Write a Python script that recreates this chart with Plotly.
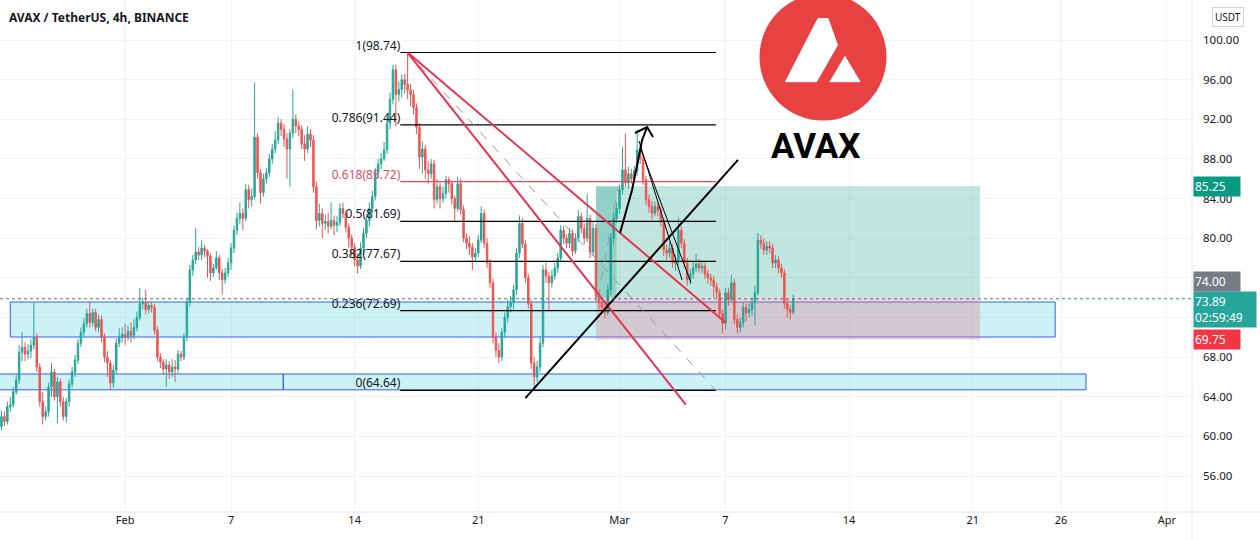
import plotly.graph_objects as go
import pandas as pd

# ---------------- DATA ----------------
start_time = "2022-01-25 00:00"
bar_hours = 4
first_open = 61.0

closes = [
    62.0, 61.5, 63.0, 63.2, 64.5, 65.7,
    68.5, 69.0, 68.3, 68.6, 69.2, 70.0,
    67.0, 63.5, 62.0, 62.5, 65.0, 66.5,
    64.0, 65.5, 63.5, 62.0, 63.5, 65.3,
    66.5, 67.7, 69.4, 70.5, 71.4, 72.4,
    71.5, 72.5, 71.0, 71.8, 70.0, 68.0,
    67.4, 65.4, 66.7, 69.4, 70.0, 70.3,
    70.0, 70.6, 70.2, 71.0, 72.0, 73.4,
    73.5, 72.8, 73.2, 73.0, 70.7, 68.0,
    67.5, 66.8, 67.2, 66.5, 67.0, 66.8,
    68.3, 68.0, 70.0, 73.5, 76.8, 77.8,
    78.6, 78.3, 79.0, 78.7, 78.2, 76.5,
    77.0, 78.0, 76.5, 75.8, 76.5, 77.5,
    79.0, 80.8, 82.0, 82.5, 82.0, 84.9,
    83.9, 84.2, 90.2, 86.6, 84.6, 86.0,
    86.6, 88.0, 89.0, 89.9, 91.6, 91.0,
    90.0, 89.0, 90.6, 92.0, 91.3, 91.0,
    89.5, 89.0, 90.5, 89.9, 85.2, 81.8,
    82.5, 81.5, 81.7, 81.2, 81.8, 81.3,
    81.6, 83.0, 82.5, 81.1, 80.0, 79.1,
    77.8, 77.2, 79.0, 80.5, 81.8, 83.0,
    84.2, 86.6, 87.5, 88.0, 88.9, 91.6,
    94.0, 97.0, 94.5, 95.0, 96.0, 95.5,
    95.0, 94.5, 93.2, 91.2, 88.2, 89.0,
    86.9, 86.5, 87.5, 83.9, 85.2, 84.0,
    84.5, 85.9, 85.5, 84.0, 83.0, 85.5,
    82.9, 80.0, 79.5, 79.1, 78.1, 78.5,
    79.8, 82.5, 79.5, 77.5, 75.5, 70.0,
    68.7, 68.0, 70.5, 72.0, 73.1, 73.5,
    74.8, 78.5, 81.5, 79.4, 76.0, 73.4,
    67.4, 66.0, 67.0, 69.4, 76.8, 76.2,
    75.5, 76.2, 77.0, 78.0, 80.8, 80.0,
    79.5, 80.5, 78.7, 80.0, 82.2, 81.0,
    80.0, 82.0, 78.6, 81.0, 74.1, 73.5,
    73.0, 72.5, 74.8, 80.0, 82.0, 83.0,
    84.9, 86.9, 85.6, 86.5, 86.0, 86.8,
    88.9, 88.0, 85.9, 83.9, 83.2, 82.5,
    83.2, 82.8, 81.8, 78.8, 78.5, 79.0,
    77.5, 77.8, 80.8, 79.5, 77.5, 75.8,
    76.4, 77.0, 77.4, 77.0, 77.2, 76.4,
    76.0, 75.8, 75.1, 74.5, 72.4, 71.4,
    74.5, 73.8, 75.5, 71.8, 71.0, 71.5,
    73.0, 72.5, 72.8, 73.5, 74.5, 79.8,
    79.5, 78.8, 79.2, 79.0, 77.5, 77.8,
    77.0, 76.5, 73.4, 72.8, 72.5, 73.89,
]

highs = [
    62.6, 62.5, 63.5, 64.0, 65.0, 66.2,
    69.2, 70.5, 69.5, 69.3, 69.8, 73.5,
    70.4, 67.4, 64.5, 63.0, 65.4, 67.4,
    66.8, 66.0, 65.8, 64.0, 63.9, 65.7,
    67.0, 68.2, 69.8, 71.0, 71.9, 72.9,
    73.6, 72.9, 72.9, 72.3, 72.2, 70.4,
    68.6, 67.7, 67.2, 69.9, 70.9, 71.0,
    71.4, 71.2, 71.5, 71.8, 72.6, 75.0,
    74.0, 74.8, 73.6, 73.6, 73.4, 71.1,
    68.4, 67.8, 67.8, 67.6, 67.8, 67.7,
    68.7, 68.6, 70.4, 74.0, 77.3, 78.3,
    81.0, 79.1, 79.8, 79.3, 78.9, 78.5,
    77.4, 78.7, 78.3, 76.9, 77.0, 78.0,
    79.5, 81.3, 82.6, 83.6, 83.0, 85.5,
    85.4, 85.0, 95.7, 90.6, 87.0, 86.5,
    87.1, 88.5, 89.5, 90.8, 92.2, 92.0,
    91.5, 90.6, 91.0, 95.0, 92.5, 91.8,
    91.4, 90.4, 91.3, 91.0, 90.4, 85.7,
    83.5, 83.0, 82.4, 82.6, 83.6, 82.3,
    82.2, 83.5, 83.6, 82.8, 81.5, 80.4,
    79.5, 78.5, 79.6, 81.0, 82.3, 83.6,
    84.8, 87.1, 88.0, 88.6, 89.7, 92.2,
    94.7, 97.5, 97.5, 95.8, 96.5, 96.6,
    98.74, 95.6, 95.0, 93.6, 91.6, 89.8,
    89.4, 87.8, 88.0, 87.9, 86.0, 85.6,
    85.2, 86.3, 86.2, 85.8, 84.3, 86.2,
    86.0, 83.3, 80.5, 80.2, 79.5, 79.0,
    80.3, 83.2, 82.9, 80.0, 77.9, 75.9,
    70.5, 69.4, 70.9, 72.5, 73.8, 74.2,
    75.3, 79.0, 82.3, 82.0, 79.8, 76.4,
    73.8, 68.0, 67.6, 70.0, 77.3, 77.5,
    76.6, 76.8, 77.5, 78.5, 81.3, 81.2,
    80.4, 81.0, 80.9, 80.5, 82.8, 82.6,
    81.5, 84.5, 82.4, 81.6, 81.4, 74.6,
    74.0, 73.5, 75.3, 80.5, 82.6, 83.6,
    85.4, 89.2, 90.6, 87.2, 87.0, 87.3,
    90.9, 89.4, 88.4, 86.3, 84.4, 83.8,
    83.7, 83.6, 83.2, 82.0, 79.4, 79.6,
    79.4, 78.3, 82.1, 81.2, 79.9, 78.0,
    76.9, 77.6, 78.4, 77.9, 77.7, 77.5,
    76.8, 76.4, 76.2, 75.5, 74.9, 72.8,
    75.0, 75.0, 76.3, 75.9, 72.3, 72.0,
    73.5, 73.4, 73.4, 74.0, 75.2, 80.5,
    80.3, 80.0, 79.7, 79.7, 79.4, 78.3,
    78.2, 77.4, 76.9, 73.9, 73.2, 74.3,
]

lows = [
    60.6, 61.0, 61.2, 62.5, 62.9, 64.2,
    65.3, 67.6, 67.6, 67.8, 67.9, 68.8,
    66.5, 63.0, 61.2, 61.6, 62.0, 64.0,
    63.6, 61.3, 63.0, 61.6, 61.4, 63.0,
    64.9, 66.0, 67.3, 69.0, 70.1, 71.0,
    71.0, 71.1, 70.6, 70.5, 69.5, 67.5,
    66.0, 64.7, 64.9, 66.3, 69.0, 69.5,
    69.2, 69.7, 69.5, 69.8, 70.6, 71.7,
    72.8, 72.3, 72.4, 72.5, 70.3, 67.6,
    66.9, 66.2, 65.0, 65.8, 66.0, 65.5,
    66.4, 67.6, 67.7, 69.6, 73.1, 76.2,
    77.4, 77.8, 77.8, 78.1, 76.0, 75.7,
    76.1, 76.8, 75.8, 74.3, 75.4, 76.1,
    76.8, 78.5, 80.3, 81.4, 80.8, 81.7,
    83.0, 83.2, 83.9, 86.0, 83.5, 84.2,
    85.5, 86.2, 87.5, 88.6, 89.5, 90.3,
    89.2, 86.0, 85.2, 90.1, 90.6, 90.3,
    89.0, 87.8, 88.6, 89.2, 84.6, 80.9,
    81.2, 80.0, 80.8, 80.5, 80.9, 80.3,
    80.6, 81.2, 82.0, 80.6, 79.0, 78.2,
    77.1, 76.4, 76.9, 78.3, 80.0, 81.2,
    82.5, 83.8, 86.0, 87.0, 87.8, 88.5,
    91.0, 93.5, 91.3, 93.8, 94.2, 94.6,
    94.0, 93.3, 92.5, 90.5, 87.0, 86.5,
    86.0, 85.5, 86.0, 83.0, 83.5, 83.0,
    83.6, 84.0, 84.6, 83.4, 81.6, 82.7,
    82.4, 79.6, 78.9, 78.3, 76.8, 77.6,
    78.1, 79.5, 79.0, 77.0, 75.0, 69.4,
    68.0, 67.4, 67.6, 70.0, 71.5, 72.5,
    72.8, 74.3, 78.0, 79.0, 75.5, 72.9,
    66.8, 64.64, 65.5, 66.5, 69.0, 75.5,
    72.7, 75.0, 75.8, 76.5, 77.6, 79.4,
    79.0, 79.0, 78.2, 78.4, 79.6, 80.5,
    79.4, 79.6, 78.0, 78.2, 73.6, 72.8,
    72.4, 71.9, 72.2, 74.2, 79.4, 81.5,
    82.5, 84.4, 85.2, 85.0, 85.5, 85.6,
    86.3, 87.5, 85.4, 83.3, 82.6, 81.9,
    82.2, 82.2, 81.2, 78.2, 77.8, 78.0,
    77.0, 76.7, 77.3, 79.0, 77.0, 75.2,
    75.3, 75.9, 76.6, 76.5, 76.5, 75.9,
    75.4, 75.2, 74.0, 73.9, 72.0, 70.4,
    70.8, 73.2, 73.5, 71.3, 70.4, 70.5,
    71.0, 71.6, 72.0, 72.2, 71.2, 74.2,
    78.9, 78.3, 78.3, 78.5, 77.0, 77.0,
    76.5, 76.0, 72.9, 72.0, 71.8, 72.3,
]

x_tick_vals = ["2022-02-01", "2022-02-07", "2022-02-14", "2022-02-21", "2022-03-01",
               "2022-03-07", "2022-03-14", "2022-03-21", "2022-03-26", "2022-04-01"]
x_tick_text = ["Feb", "7", "14", "21", "Mar", "7", "14", "21", "26", "Apr"]
y_tick_vals = [56, 60, 64, 68, 72, 76, 80, 84, 88, 92, 96, 100]
y_hidden_ticks = [72, 76]  # covered by the price labels in the reference
x_range = ["2022-01-24 22:00", "2022-04-02 10:00"]
y_range = [52.37, 104.04]

# Fibonacci retracement
fib_levels = [98.74, 91.44, 85.72, 81.69, 77.67, 72.69, 64.64]
fib_labels = ["1(98.74)", "0.786(91.44)", "0.618(85.72)", "0.5(81.69)",
              "0.382(77.67)", "0.236(72.69)", "0(64.64)"]
fib_start = "2022-02-16 14:00"
fib_end = "2022-03-06 11:00"
fib_anchor_times = ["2022-02-17 00:00", "2022-03-06 11:00"]
fib_anchor_prices = [98.74, 64.64]

# Trend lines
red_a_times = ["2022-02-17 00:00", "2022-03-07 00:00"]
red_a_prices = [98.74, 71.5]
red_b_times = ["2022-02-17 00:00", "2022-03-04 18:00"]
red_b_prices = [98.74, 63.2]
black_trend_times = ["2022-02-23 16:00", "2022-03-07 17:00"]
black_trend_prices = [63.87, 87.9]
arrow_times = ["2022-03-01 00:40", "2022-03-01 17:00", "2022-03-02 06:40", "2022-03-02 13:30"]
arrow_prices = [80.53, 84.86, 89.91, 91.22]
arrow_head_times = ["2022-03-01 21:00", "2022-03-02 13:30", "2022-03-02 21:30"]
arrow_head_prices = [90.62, 91.22, 90.21]
thin_a_times = ["2022-03-02 02:30", "2022-03-04 13:00"]
thin_a_prices = [89.81, 75.78]
thin_b_times = ["2022-03-02 05:20", "2022-03-05 01:10"]
thin_b_prices = [88.9, 75.5]

# Long position tool
position_start = "2022-02-27 16:00"
position_end = "2022-03-21 10:00"
position_dark_end = "2022-02-28 20:00"
entry_price = 74.00
target_price = 85.25
stop_price = 69.75
position_path_times = ["2022-02-27 18:45", "2022-02-28 22:00"]
position_path_prices = [73.97, 85.27]

# Support zones
zone_starts = ["2022-01-25 12:00", "2022-01-20 00:00", "2022-02-09 23:00"]
zone_ends = ["2022-03-25 16:00", "2022-02-09 23:00", "2022-03-27 10:00"]
zone_lows = [70.03, 64.7, 64.7]
zone_highs = [73.56, 66.3, 66.3]

last_price = 73.89
countdown = "02:59:49"
title_text = "AVAX / TetherUS, 4h, BINANCE"

# ---------------- FIGURE ----------------
FIG_W, FIG_H = 1260, 540
PLOT_W, PLOT_H = 1192, 512
UP, DOWN = "#26a69a", "#ef5350"
FONT = "Noto Sans"

times = pd.date_range(start_time, periods=len(closes), freq=f"{bar_hours}h")
opens = [first_open] + closes[:-1]
hi = [max(h, o, c) for h, o, c in zip(highs, opens, closes)]
lo = [min(l, o, c) for l, o, c in zip(lows, opens, closes)]


def px(x, y):
    return x / PLOT_W, 1 - y / PLOT_H


fig = go.Figure()

# fib labels (under candles)
fig.add_trace(go.Scatter(
    x=[fib_start] * len(fib_levels), y=fib_levels, mode="text",
    text=fib_labels, textposition="top left",
    textfont=dict(family=FONT, size=12,
                  color=["#e04a5c" if l.startswith("0.618") else "#131722" for l in fib_labels]),
    hoverinfo="skip", showlegend=False))

fig.add_trace(go.Candlestick(
    x=times, open=opens, high=hi, low=lo, close=closes,
    increasing=dict(line=dict(color=UP, width=1), fillcolor=UP),
    decreasing=dict(line=dict(color=DOWN, width=1), fillcolor=DOWN),
    whiskerwidth=0, showlegend=False, hoverinfo="skip"))


def line_trace(xs, ys, color, width, dash="solid"):
    fig.add_trace(go.Scatter(x=xs, y=ys, mode="lines",
                             line=dict(color=color, width=width, dash=dash),
                             hoverinfo="skip", showlegend=False))


# fib lines
for lvl, lab in zip(fib_levels, fib_labels):
    col = "#e04a5c" if lab.startswith("0.618") else "#000000"
    line_trace([fib_start, fib_end], [lvl, lvl], col, 1.2)
line_trace(fib_anchor_times, fib_anchor_prices, "#9598a1", 1, "dash")
line_trace(position_path_times, position_path_prices, "#9598a1", 1, "dash")

line_trace(red_a_times, red_a_prices, "#e8334f", 2)
line_trace(red_b_times, red_b_prices, "#e8334f", 2)
line_trace(black_trend_times, black_trend_prices, "#000000", 2)
line_trace(arrow_times, arrow_prices, "#000000", 2)
line_trace(arrow_head_times, arrow_head_prices, "#000000", 2)
line_trace(thin_a_times, thin_a_prices, "#000000", 1)
line_trace(thin_b_times, thin_b_prices, "#000000", 1)

shapes = []
# zones
for x0, x1, y0, y1 in zip(zone_starts, zone_ends, zone_lows, zone_highs):
    shapes.append(dict(type="rect", xref="x", yref="y", x0=x0, x1=x1, y0=y0, y1=y1,
                       fillcolor="rgba(0,188,212,0.2)", line=dict(color="#2f5ff0", width=1),
                       layer="between"))
# position: target, darker part, stop
shapes.append(dict(type="rect", xref="x", yref="y", x0=position_start, x1=position_end,
                   y0=entry_price, y1=target_price, fillcolor="rgba(8,153,129,0.25)",
                   line=dict(width=0), layer="between"))
shapes.append(dict(type="rect", xref="x", yref="y", x0=position_start, x1=position_dark_end,
                   y0=entry_price, y1=target_price, fillcolor="rgba(8,153,129,0.25)",
                   line=dict(width=0), layer="between"))
shapes.append(dict(type="rect", xref="x", yref="y", x0=position_start, x1=position_end,
                   y0=stop_price, y1=entry_price, fillcolor="rgba(220,125,140,0.35)",
                   line=dict(width=0), layer="between"))
# last price dotted line
shapes.append(dict(type="line", xref="paper", yref="y", x0=0, x1=1, y0=last_price, y1=last_price,
                   line=dict(color="#3f7f78", width=1, dash="dot"), layer="above"))
# frame lines extending into axis area
shapes.append(dict(type="line", xref="paper", yref="paper", x0=0, x1=FIG_W / PLOT_W, y0=0, y1=0,
                   line=dict(color="#e0e3eb", width=1)))
shapes.append(dict(type="line", xref="paper", yref="paper", x0=1, x1=1, y0=-(FIG_H - PLOT_H) / PLOT_H,
                   y1=1, line=dict(color="#e0e3eb", width=1)))

# AVAX logo (decoration)
cx, cy, r = 823, 57, 63.5
x0, y1 = px(cx - r, cy - r)
x1, y0 = px(cx + r, cy + r)
shapes.append(dict(type="circle", xref="paper", yref="paper", x0=x0, x1=x1, y0=y0, y1=y1,
                   fillcolor="#e84142", line=dict(width=0), layer="above"))


def poly(points):
    s = ""
    for i, (a, b) in enumerate(points):
        u, v = px(a, b)
        s += ("M" if i == 0 else "L") + f"{u:.5f},{v:.5f} "
    return s + "Z"


shapes.append(dict(type="path", xref="paper", yref="paper",
                   path=poly([(818, 18.5), (828, 18.5), (837.5, 45), (816.5, 81.7), (785.5, 81.7)]),
                   fillcolor="white", line=dict(color="white", width=1), layer="above"))
shapes.append(dict(type="path", xref="paper", yref="paper",
                   path=poly([(845, 56.5), (830, 81.7), (860, 81.7)]),
                   fillcolor="white", line=dict(color="white", width=1), layer="above"))

annotations = []
annotations.append(dict(xref="paper", yref="paper", x=px(815.5, 0)[0], y=px(0, 146)[1],
                        xanchor="center", yanchor="middle",
                        text="<b>AVAX</b>", showarrow=False,
                        font=dict(family="Roboto", size=35, color="#000000")))
annotations.append(dict(xref="paper", yref="paper", x=0, y=1, xanchor="left", yanchor="top",
                        xshift=7, yshift=-7, text="<b>" + title_text + "</b>", showarrow=False,
                        font=dict(family=FONT, size=12, color="#131722")))
annotations.append(dict(xref="paper", yref="paper", x=px(1227.5, 0)[0], y=px(0, 16.5)[1],
                        xanchor="center", yanchor="middle",
                        text="USDT", showarrow=False, bgcolor="white", bordercolor="#d1d4dc",
                        borderwidth=1, borderpad=2, font=dict(family=FONT, size=10, color="#131722")))


def price_label(price, text, color, yshift=0, width=44, anchor="middle"):
    annotations.append(dict(xref="paper", yref="y", x=1, y=price, xanchor="left", yanchor=anchor,
                            xshift=1, yshift=yshift, text=text, showarrow=False, align="left",
                            bgcolor=color, borderpad=1, width=width,
                            font=dict(family=FONT, size=12, color="white")))


price_label(target_price, "85.25", "#089981")
price_label(entry_price, "74.00", "#787b86", yshift=16)
price_label(stop_price, "69.75", "#f23645")
price_label(last_price, f"{last_price:.2f}<br>{countdown}", "#26a69a", yshift=8, width=60, anchor="top")

fig.update_layout(
    width=FIG_W, height=FIG_H,
    margin=dict(l=0, r=FIG_W - PLOT_W, t=0, b=FIG_H - PLOT_H),
    paper_bgcolor="white", plot_bgcolor="white",
    shapes=shapes, annotations=annotations,
    showlegend=False, hovermode=False, dragmode=False,
    font=dict(family=FONT, size=11, color="#131722"),
    xaxis=dict(type="date", range=x_range, rangeslider=dict(visible=False),
               tickvals=x_tick_vals, ticktext=x_tick_text, showgrid=True, gridcolor="#f0f3fa",
               showline=False, zeroline=False, ticks="", tickfont=dict(size=11, color="#131722")),
    yaxis=dict(side="right", range=y_range, tickvals=y_tick_vals,
               ticktext=["" if v in y_hidden_ticks else f"{v:.2f}" for v in y_tick_vals],
               showgrid=True, gridcolor="#f0f3fa",
               showline=False, zeroline=False, ticks="", ticklabelstandoff=10,
               tickfont=dict(size=11.5, color="#131722")),
)

fig.write_html("out.html", config={"displayModeBar": False},
               post_script="document.body.style.margin='0';")
